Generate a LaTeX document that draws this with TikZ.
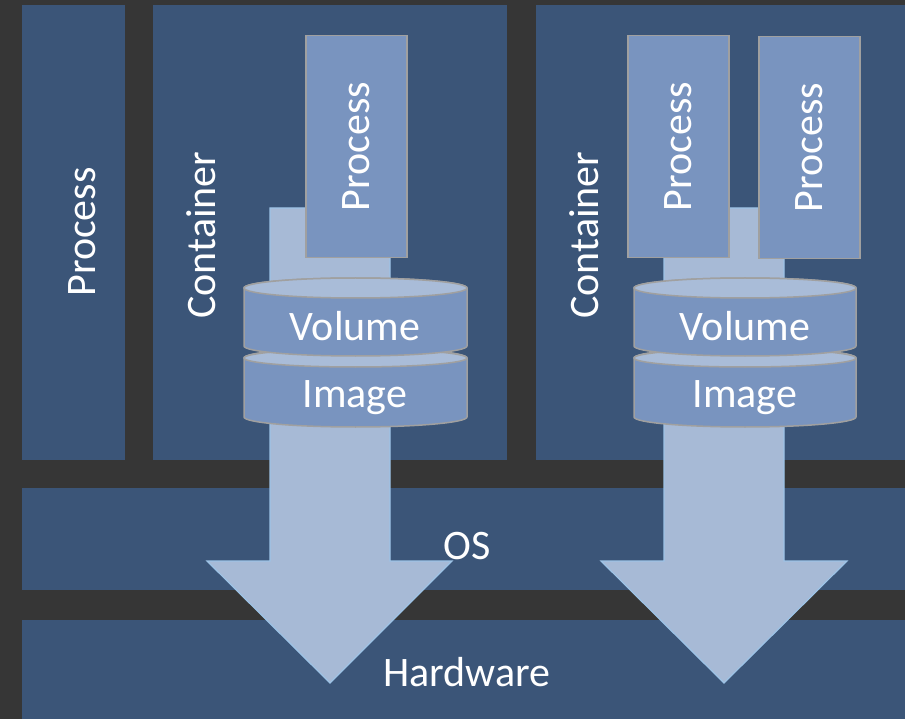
\documentclass[tikz,border=0pt]{standalone}
\usepackage{fontspec}
\setmainfont{Carlito}
\definecolor{bgdark}{HTML}{363636}
\definecolor{blkblue}{HTML}{3B5578}
\definecolor{arrowfill}{HTML}{A7BAD6}
\definecolor{arrowline}{HTML}{9DC3E6}
\definecolor{procfill}{HTML}{7994BF}
\definecolor{procline}{HTML}{A0A0A0}
\definecolor{captop}{HTML}{A9BCD8}
\begin{document}
\begin{tikzpicture}[x=1pt,y=-1pt,
  blk/.style={fill=blkblue, draw=none, inner sep=0pt, anchor=north west},
  procbox/.style={fill=procfill, draw=procline, line width=1.5pt, inner sep=0pt, anchor=north west, minimum width=101pt, minimum height=222pt},
  bigarrow/.style={fill=arrowfill, draw=arrowline, line width=1.2pt, line join=miter},
  cylbody/.style={fill=procfill, draw=procline, line width=1.5pt},
  cyltop/.style={fill=captop, draw=procline, line width=1.5pt},
  lbl/.style={text=white, font=\fontsize{42}{46}\selectfont, inner sep=0pt}
]
\useasboundingbox (0,0) rectangle (905,719);
\fill[bgdark] (0,0) rectangle (905,719);

% blocks
\node[blk, minimum width=103pt, minimum height=455pt] (procL) at (22,5) {};
\node[blk, minimum width=354pt, minimum height=455pt] (cont1) at (153,5) {};
\node[blk, minimum width=369pt, minimum height=455pt] (cont2) at (536,5) {};
\node[blk, minimum width=883pt, minimum height=102pt] (os) at (22,488) {};
\node[blk, minimum width=883pt, minimum height=99pt] (hw) at (22,620) {};

% arrows
\coordinate (a1top) at (330,208);
\coordinate (a1tip) at (330,683);
\draw[bigarrow] (270,208) -- (390,208) -- (390,561) -- (452,561) -- (a1tip) -- (207,561) -- (270,561) -- cycle;
\coordinate (a2top) at (724,208);
\coordinate (a2tip) at (724,683);
\draw[bigarrow] (664,208) -- (784,208) -- (784,561) -- (847,561) -- (a2tip) -- (601,561) -- (664,561) -- cycle;

% cylinders
\newcommand{\stackcyl}[2]{%
  \pgfmathsetmacro{\cx}{(#1+#2)/2}
  \pgfmathsetmacro{\rx}{(#2-#1)/2}
  % image
  \draw[cylbody] (#1,358) -- (#1,417) arc[start angle=180, end angle=0, x radius=\rx, y radius=10] -- (#2,358) arc[start angle=0, end angle=-180, x radius=\rx, y radius=10] -- cycle;
  \draw[cyltop] (\cx,358) ellipse[x radius=\rx, y radius=9];
  % volume
  \draw[cylbody] (#1,288) -- (#1,346) arc[start angle=180, end angle=0, x radius=\rx, y radius=10] -- (#2,288) arc[start angle=0, end angle=-180, x radius=\rx, y radius=10] -- cycle;
  \draw[cyltop] (\cx,288) ellipse[x radius=\rx, y radius=10];
}
\stackcyl{244}{467}
\stackcyl{634}{856}

% process boxes
\node[procbox] (p1) at (305,35) {};
\node[procbox] (p2) at (627,35) {};
\node[procbox] (p3) at (758,36) {};

% labels
\node[lbl, rotate=90] (tprocL) at (82,232) {Process};
\node[lbl, rotate=90] (tcont1) at (201,235) {Container};
\node[lbl, rotate=90] (tcont2) at (584,235) {Container};
\node[lbl, rotate=90] at (p1.center) {Process};
\node[lbl, rotate=90] at (p2.center) {Process};
\node[lbl, rotate=90] at (p3.center) {Process};
\node[lbl] (tvol1) at (355,326) {Volume};
\node[lbl] (timg1) at (355,398) {Image};
\node[lbl] (tvol2) at (745,326) {Volume};
\node[lbl] (timg2) at (745,398) {Image};
\node[lbl] (tos) at (467,546) {OS};
\node[lbl] (thw) at (467,672) {Hardware};
\end{tikzpicture}
\end{document}
